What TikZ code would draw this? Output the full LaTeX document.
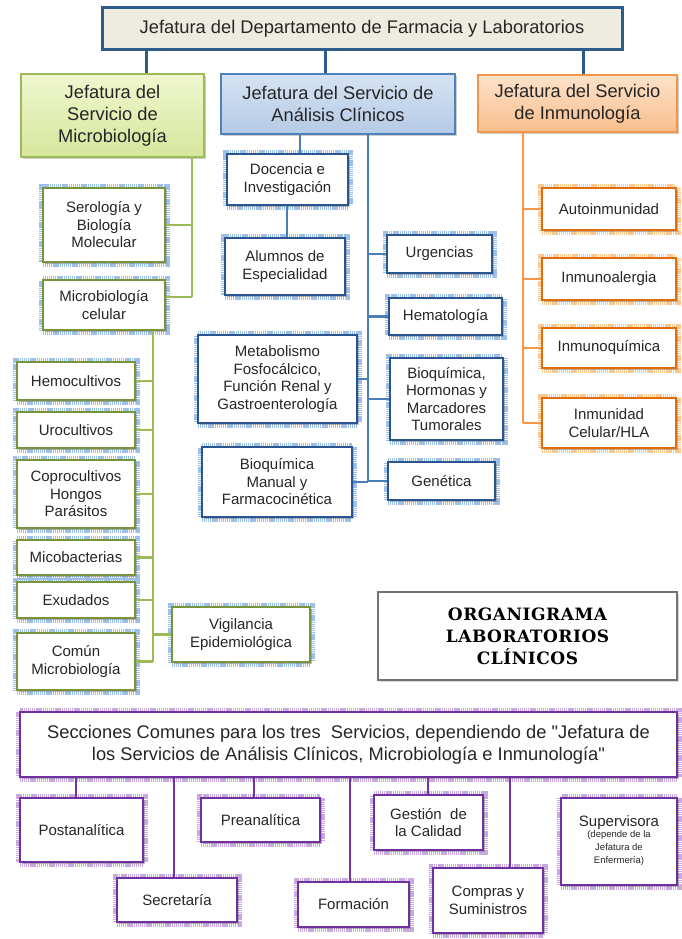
\documentclass[tikz,border=0pt]{standalone}
\usepackage{fontspec}
\setmainfont{Liberation Sans}
\newfontfamily\qfont[Ligatures=TeXOff]{Liberation Sans}
\newfontfamily\orgfont[LetterSpace=3]{DejaVu Serif}
\usetikzlibrary{shadows,calc}

\definecolor{txt}{HTML}{262626}
\definecolor{topfill}{HTML}{EEECE1}
\definecolor{topdraw}{HTML}{2E5C8A}
\definecolor{micA}{HTML}{F0F7CF}
\definecolor{micB}{HTML}{D5E69C}
\definecolor{micD}{HTML}{9BBB59}
\definecolor{anaA}{HTML}{D6E3F3}
\definecolor{anaB}{HTML}{B4CAE6}
\definecolor{anaD}{HTML}{4F81BD}
\definecolor{inmA}{HTML}{FDE2CB}
\definecolor{inmB}{HTML}{F9BE8C}
\definecolor{inmD}{HTML}{F0954A}
\definecolor{bDraw}{HTML}{2B5590}
\definecolor{bHalo}{HTML}{9DC0E8}
\definecolor{gDraw}{HTML}{77933C}
\definecolor{oDraw}{HTML}{E36C09}
\definecolor{oHalo}{HTML}{F8C890}
\definecolor{pDraw}{HTML}{7030A0}
\definecolor{pHalo}{HTML}{C9A9E2}
\definecolor{gLine}{HTML}{9BBB59}
\definecolor{bLine}{HTML}{4A7EBB}
\definecolor{oLine}{HTML}{F79646}
\definecolor{pLine}{HTML}{7434A6}

\newcommand{\bx}[7]{\node[#6, minimum width={(#4)-(#2)}, minimum height={(#5)-(#3)}] (#1) at ({((#2)+(#4))/2},{((#3)+(#5))/2}) {#7};}
\newcommand{\smalltxt}{\fontsize{9.5}{13}\selectfont}
\newcommand{\sq}{{\qfont"}}

\tikzset{
  base/.style={inner sep=2pt, align=center, text=txt},
  smallf/.style={font=\fontsize{15}{17.5}\selectfont},
  bigf/.style={font=\fontsize{18.3}{22}\selectfont},
  halobox/.style 2 args={base, smallf, fill=white, draw=#1, line width=2.6pt,
    preaction={draw=#2, line width=9pt, dash pattern=on 1.2pt off 0.7pt},
    drop shadow={shadow xshift=1.6pt, shadow yshift=-1.6pt, opacity=0.5}},
  bluesub/.style={halobox={bDraw}{bHalo}},
  greensub/.style={halobox={gDraw}{bHalo}},
  orangesub/.style={halobox={oDraw}{oHalo}},
  purplesub/.style={halobox={pDraw}{pHalo}},
  lvl/.style={base, bigf, line width=1.6pt,
    drop shadow={shadow xshift=2pt, shadow yshift=-2pt, opacity=0.4}},
  micbox/.style={lvl, draw=micD, top color=micA, bottom color=micB},
  anabox/.style={lvl, draw=anaD, top color=anaA, bottom color=anaB},
  inmbox/.style={lvl, draw=inmD, top color=inmA, bottom color=inmB},
  topbox/.style={base, bigf, fill=topfill, draw=topdraw, line width=3pt},
  orgbox/.style={base, fill=white, draw=black!55, line width=1.5pt, text=black,
    font=\orgfont\bfseries\fontsize{17}{22}\selectfont,
    drop shadow={shadow xshift=1.5pt, shadow yshift=-1.5pt, opacity=0.3}},
  topline/.style={draw=topdraw, line width=3pt},
  gline/.style={draw=gLine, line width=2.5pt},
  bline/.style={draw=bLine, line width=2.5pt},
  oline/.style={draw=oLine, line width=2.5pt},
  pline/.style={draw=pLine, line width=2.5pt},
}

\begin{document}
\begin{tikzpicture}[x=1pt, y=-1pt]
\fill[white] (0,0) rectangle (681,939);
\useasboundingbox (0,0) rectangle (681,939);

% level 1 and 2
\bx{top}{102}{8}{622}{50}{topbox}{Jefatura del Departamento de Farmacia y Laboratorios}
\bx{mic}{21}{74}{204}{157}{micbox}{Jefatura del\\Servicio de\\Microbiología}
\bx{ana}{221}{74}{455}{134}{anabox}{Jefatura del Servicio de\\Análisis Clínicos}
\bx{inm}{478}{75}{677}{132}{inmbox}{Jefatura del Servicio\\de Inmunología}

% microbiologia
\bx{ser}{43}{188}{165}{262}{greensub}{Serología y\\Biología\\Molecular}
\bx{cel}{43}{280}{165}{330}{greensub}{Microbiología\\celular}
\bx{hemo}{17}{362}{135}{400}{greensub}{Hemocultivos}
\bx{uro}{17}{412}{135}{448}{greensub}{Urocultivos}
\bx{copro}{17}{460}{135}{528}{greensub}{Coprocultivos\\Hongos\\Parásitos}
\bx{mico}{17}{540}{135}{575}{greensub}{Micobacterias}
\bx{exu}{17}{582}{135}{618}{greensub}{Exudados}
\bx{com}{17}{633}{135}{690}{greensub}{Común\\Microbiología}
\bx{vig}{172}{607}{310}{662}{greensub}{Vigilancia\\Epidemiológica}

% analisis clinicos
\bx{doc}{227}{154}{348}{205}{bluesub}{Docencia e\\Investigación}
\bx{alu}{225}{238}{345}{295}{bluesub}{Alumnos de\\Especialidad}
\bx{urg}{387}{235}{492}{273}{bluesub}{Urgencias}
\bx{hem}{389}{298}{502}{335}{bluesub}{Hematología}
\bx{met}{198}{335}{357}{423}{bluesub}{Metabolismo\\Fosfocálcico,\\Función Renal y\\Gastroenterología}
\bx{bhm}{390}{358}{503}{440}{bluesub}{Bioquímica,\\Hormonas y\\Marcadores\\Tumorales}
\bx{bma}{202}{447}{352}{517}{bluesub}{Bioquímica\\Manual y\\Farmacocinética}
\bx{gen}{388}{462}{495}{500}{bluesub}{Genética}

% inmunologia
\bx{aut}{542}{188}{676}{230}{orangesub}{Autoinmunidad}
\bx{ial}{542}{258}{676}{300}{orangesub}{Inmunoalergia}
\bx{iq}{542}{328}{676}{368}{orangesub}{Inmunoquímica}
\bx{ihla}{542}{398}{676}{448}{orangesub}{Inmunidad\\Celular/HLA}

% title box
\bx{org}{378}{592}{677}{680}{orgbox}{ORGANIGRAMA\\LABORATORIOS\\CLÍNICOS}

% common sections
\bx{secc}{20}{712}{677}{777}{purplesub, bigf}{Secciones Comunes para los tres~ Servicios, dependiendo de \sq Jefatura de\\los Servicios de Análisis Clínicos, Microbiología e Inmunología\sq}
\bx{post}{20}{798}{143}{862}{purplesub}{Postanalítica}
\bx{sec}{117}{878}{237}{922}{purplesub}{Secretaría}
\bx{pre}{201}{798}{320}{842}{purplesub}{Preanalítica}
\bx{form}{298}{882}{409}{927}{purplesub}{Formación}
\bx{ges}{374}{795}{483}{850}{purplesub}{Gestión~ de\\la Calidad}
\bx{comp}{433}{868}{543}{933}{purplesub}{Compras y\\Suministros}
\bx{sup}{561}{798}{677}{885}{purplesub}{Supervisora\\[-3pt]{\smalltxt\begin{tabular}{@{}c@{}}(depende de la\\Jefatura de\\Enfermería)\end{tabular}}}

% connectors: top
\draw[topline] (146,0 |- top.south) -- (146,0 |- mic.north);
\draw[topline] (325,0 |- top.south) -- (325,0 |- ana.north);
\draw[topline] (583,0 |- top.south) -- (583,0 |- inm.north);

% microbiologia
\coordinate (mj) at (192,297);
\draw[gline] (192,0 |- mic.south) -- (mj);
\draw[gline] (ser.east) -- (192,0 |- ser.east);
\draw[gline] (cel.east |- mj) -- (mj);
\draw[gline] (153,0 |- cel.south) -- (153,0 |- com.east);
\foreach \n in {hemo,uro,copro,mico,exu,com} \draw[gline] (\n.east) -- (153,0 |- \n.east);
\draw[gline] (vig.west) -- (153,0 |- vig.west);

% analisis
\draw[bline] (300,0 |- ana.south) -- (300,0 |- doc.north);
\draw[bline] (287,0 |- doc.south) -- (287,0 |- alu.north);
\draw[bline] (368,0 |- ana.south) -- (368,0 |- bma.east);
\foreach \n in {urg,hem,bhm,gen} \draw[bline] (\n.west) -- (368,0 |- \n.west);
\foreach \n in {met,bma} \draw[bline] (\n.east) -- (368,0 |- \n.east);

% inmunologia
\draw[oline] (523,0 |- inm.south) -- (523,0 |- ihla.west);
\foreach \n in {aut,ial,iq,ihla} \draw[oline] (\n.west) -- (523,0 |- \n.west);

% common
\foreach \xx/\n in {76/post,174/sec,254/pre,350/form,428/ges,510/comp}
  \draw[pline] (\xx,0 |- secc.south) -- (\xx,0 |- \n.north);
\end{tikzpicture}
\end{document}
